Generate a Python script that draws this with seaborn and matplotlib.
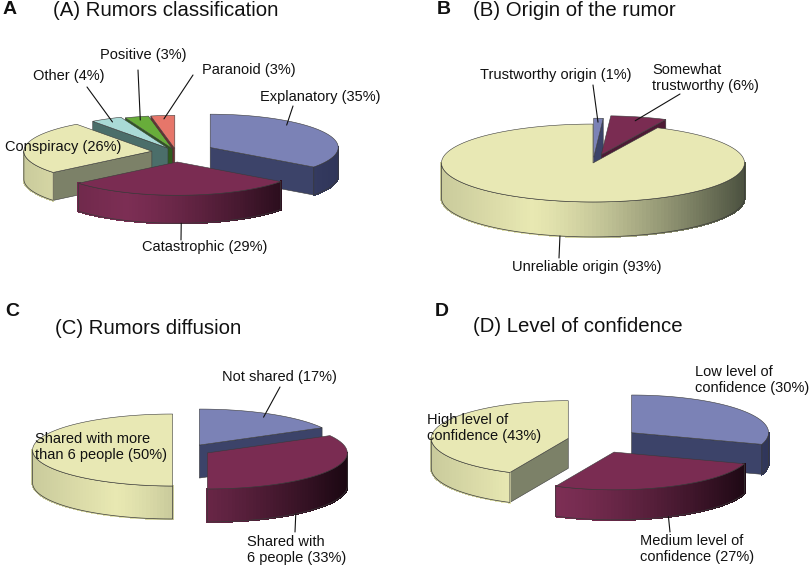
import numpy as np
import matplotlib.pyplot as plt
import seaborn as sns
from matplotlib.patches import Polygon
from matplotlib.collections import PolyCollection
from matplotlib.colors import to_rgb

sns.set_theme(style="white")
plt.rcParams['font.family'] = ['Liberation Sans', 'DejaVu Sans']

# =========================
# DATA
# =========================
a_labels = ["Explanatory (35%)", "Catastrophic (29%)", "Conspiracy (26%)",
            "Other (4%)", "Positive (3%)", "Paranoid (3%)"]
a_values = [35, 29, 26, 4, 3, 3]

b_labels = ["Trustworthy origin (1%)", "Somewhat\ntrustworthy (6%)",
            "Unreliable origin (93%)"]
b_values = [1, 6, 93]

c_labels = ["Not shared (17%)", "Shared with\n6 people (33%)",
            "Shared with more\nthan 6 people (50%)"]
c_values = [17, 33, 50]

d_labels = ["Low level of\nconfidence (30%)", "Medium level of\nconfidence (27%)",
            "High level of\nconfidence (43%)"]
d_values = [30, 27, 43]

titles = ["(A) Rumors classification", "(B) Origin of the rumor",
          "(C) Rumors diffusion", "(D) Level of confidence"]

# =========================
# STYLE
# =========================
BLUE = dict(top='#7b82b6', light='#474e7b', dark='#30365a', cut='#3c4369')
MAROON = dict(top='#7a2c52', light='#7c2e54', dark='#1b0712', cut='#4d1a35')
YELLOW = dict(top='#e8e8b4', light='#e8e8b2', dark='#4c5240', cut='#7c8168')
TEAL = dict(top='#a9dad6', light='#7fa8a4', dark='#3f5c58', cut='#4b6e6a')
GREEN = dict(top='#68ad3a', light='#4a8a2a', dark='#254c17', cut='#2e5c1e')
SALMON = dict(top='#e6766a', light='#b85a50', dark='#5a2424', cut='#6d2e30')

EDGE = '#3a3a3a'
LABEL_FS = 10.5
TITLE_FS = 14.7


def shade(a_deg, light, dark):
    xr = np.cos(np.radians(a_deg))
    if xr <= -0.4:
        f = 1 - 0.2 * (-0.4 - xr) / 0.6
    else:
        f = 1 - ((xr + 0.4) / 1.4) ** 1.3
    lo, hi = np.array(to_rgb(dark)), np.array(to_rgb(light))
    return tuple(lo + f * (hi - lo))


def pie3d(ax, values, colors, cx, cy, r, tilt, depth, explode, anchor_frac):
    fr = np.cumsum([0] + list(values)) / sum(values)
    wedges = []
    for i in range(len(values)):
        t0 = 90 - 360 * fr[i + 1]
        t1 = 90 - 360 * fr[i]
        mid = np.radians((t0 + t1) / 2)
        ox = cx + explode[i] * r * np.cos(mid)
        oy = cy - explode[i] * r * tilt * np.sin(mid)
        wedges.append((np.sin(mid), i, t0, t1, ox, oy))
    wedges.sort(key=lambda w: -w[0])

    anchors = [None] * len(values)
    for _, i, t0, t1, ox, oy in wedges:
        col = colors[i]

        def pt(a, down=0.0, scale=1.0):
            ar = np.radians(a)
            return (ox + scale * r * np.cos(ar), oy - scale * r * tilt * np.sin(ar) + down)

        # cut faces
        faces = []
        if np.cos(np.radians(t0)) > 1e-6:
            faces.append(t0)
        if np.cos(np.radians(t1)) < -1e-6:
            faces.append(t1)
        for a in faces:
            quad = [(ox, oy), pt(a), pt(a, depth), (ox, oy + depth)]
            ax.add_patch(Polygon(quad, closed=True, facecolor=col['cut'],
                                 edgecolor=EDGE, lw=0.4))

        # outer rim (front half only)
        for k in range(-2, 2):
            s = max(t0, 180 + 360 * k)
            e = min(t1, 360 + 360 * k)
            if e - s <= 0.01:
                continue
            angs = np.linspace(s, e, max(int((e - s) / 1.5), 2) + 1)
            quads, fcs = [], []
            for a, b in zip(angs[:-1], angs[1:]):
                quads.append([pt(a), pt(b), pt(b, depth), pt(a, depth)])
                fcs.append(shade((a + b) / 2, col['light'], col['dark']))
            ax.add_collection(PolyCollection(quads, facecolors=fcs,
                                             edgecolors=fcs, linewidths=1.0,
                                             antialiaseds=False))
            outline = [pt(a) for a in angs] + [pt(a, depth) for a in angs[::-1]]
            ax.add_patch(Polygon(outline, closed=True, fill=False,
                                 edgecolor=EDGE, lw=0.5))

        # top face
        angs = np.linspace(t0, t1, max(int((t1 - t0) / 1.0), 2) + 1)
        top = [(ox, oy)] + [pt(a) for a in angs]
        ax.add_patch(Polygon(top, closed=True, facecolor=col['top'],
                             edgecolor=EDGE, lw=0.4))

        # anchor point for leader line
        a_anc = t0 + anchor_frac[i] * (t1 - t0)
        if np.sin(np.radians(a_anc)) < 0:
            anchors[i] = pt(a_anc, depth)
        else:
            anchors[i] = pt(a_anc, 0, 0.9)
    return anchors


def put_labels(ax, labels, anchors, text_pos, line_ends):
    for lab, anc, tp, le in zip(labels, anchors, text_pos, line_ends):
        ax.text(tp[0], tp[1], lab, ha='left', va='center', fontsize=LABEL_FS,
                color='#111111', linespacing=1.25)
        if le is not None:
            ax.plot([anc[0], le[0]], [anc[1], le[1]], color='#111111', lw=0.8)


# =========================
# FIGURE
# =========================
fig = plt.figure(figsize=(8.09, 5.68), dpi=100)
ax = fig.add_axes([0, 0, 1, 1])
ax.set_xlim(0, 809)
ax.set_ylim(568, 0)
ax.axis('off')

# Panel A
anc = pie3d(ax, a_values, [BLUE, MAROON, YELLOW, TEAL, GREEN, SALMON],
            cx=176, cy=152, r=128, tilt=0.26, depth=28,
            explode=[0.30, 0.30, 0.19, 0.13, 0.10, 0.10],
            anchor_frac=[0.67, 0.5, 0.5, 0.5, 0.5, 0.5])
put_labels(ax, a_labels, anc,
           [(260, 97), (142, 247), (5, 147), (33, 76), (100, 55), (202, 70)],
           [(293, 106), (181, 240), None, (87, 87), (138, 70), (193, 75)])

# Panel B
anc = pie3d(ax, b_values, [BLUE, MAROON, YELLOW],
            cx=593, cy=163, r=151.5, tilt=0.257, depth=35,
            explode=[0.15, 0.22, 0.0],
            anchor_frac=[0.5, 0.5, 0.5])
put_labels(ax, b_labels, anc,
           [(480, 75), (652, 78), (512, 267)],
           [(593, 85), (680, 94), (559, 258)])

# Panel C
anc = pie3d(ax, c_values, [BLUE, MAROON, YELLOW],
            cx=188, cy=450, r=140, tilt=0.257, depth=33,
            explode=[0.16, 0.16, 0.11],
            anchor_frac=[0.5, 0.33, 0.5])
put_labels(ax, c_labels, anc,
           [(222, 377), (247, 550), (35, 447)],
           [(280, 387), (295, 532), None])

# Panel D
anc = pie3d(ax, d_values, [BLUE, MAROON, YELLOW],
            cx=595, cy=440, r=137, tilt=0.275, depth=30,
            explode=[0.33, 0.35, 0.20],
            anchor_frac=[0.5, 0.5, 0.5])
put_labels(ax, d_labels, anc,
           [(695, 380), (640, 549), (427, 428)],
           [None, (670, 532), None])

# Titles and panel letters
for (x, y), t in zip([(53, 11), (473, 11), (55, 329), (473, 327)], titles):
    ax.text(x, y, t, ha='left', va='center', fontsize=TITLE_FS, color='#111111')
for (x, y), letter in zip([(3, 10), (437, 10), (5, 312), (435, 312)], "ABCD"):
    ax.text(x, y, letter, ha='left', va='center', fontsize=14,
            fontweight='bold', color='#111111')

plt.savefig('out.png', dpi=100)
